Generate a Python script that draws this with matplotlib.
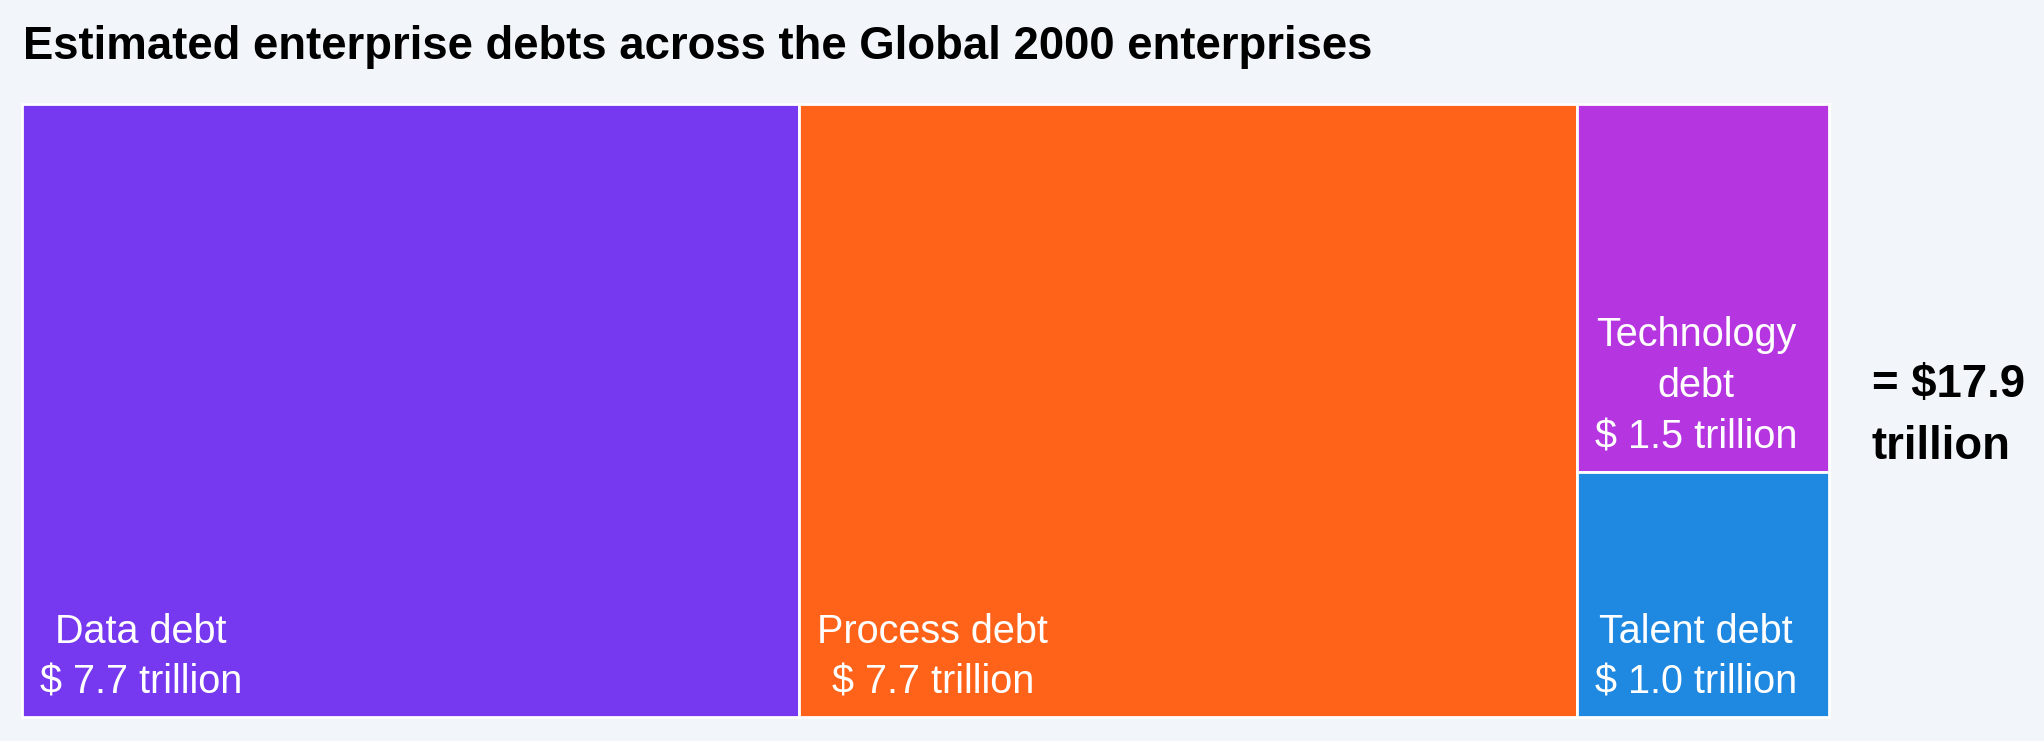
import matplotlib.pyplot as plt
from matplotlib.patches import Rectangle

plt.rcParams['font.family'] = ['Liberation Sans', 'DejaVu Sans']

# data (trillion USD)
labels = ['Data debt', 'Process debt', 'Technology\ndebt', 'Talent debt']
values = [7.7, 7.7, 1.5, 1.0]
colors = ['#7639f0', '#ff631a', '#b535e0', '#1f89e2']
total_text = '= $17.9\ntrillion'
title = 'Estimated enterprise debts across the Global 2000 enterprises'

W, H = 2044, 741
fig = plt.figure(figsize=(W / 100, H / 100), dpi=100)
fig.patch.set_facecolor('#f2f5f9')

# treemap area
ax = fig.add_axes([22 / W, 24 / H, 1807 / W, 613 / H])
ax.set_facecolor('#f2f5f9')
total = sum(values)
ax.set_xlim(0, total)
ax.set_ylim(0, 1)
ax.axis('off')

# first two are full-height columns, the rest share the last column
rects = []
x = 0
for v in values[:2]:
    rects.append((x, 0, v, 1))
    x += v
rest = sum(values[2:])
y = 1
for v in values[2:]:
    h = v / rest
    y -= h
    rects.append((x, y, rest, h))

for (rx, ry, rw, rh), lab, val, c in zip(rects, labels, values, colors):
    ax.add_patch(Rectangle((rx, ry), rw, rh, facecolor=c, edgecolor='white',
                           linewidth=2, clip_on=False))
    ax.annotate(f'{lab}\n$ {val:.1f} trillion', xy=(rx, ry),
                xytext=(13, 11), textcoords='offset points',
                ha='left', va='bottom', multialignment='center',
                color='white', fontsize=28.5, linespacing=1.44)

fig.text(23 / W, 1 - 47 / H, title, fontsize=32.8, fontweight='bold',
         ha='left', va='center')
fig.text(1872 / W, 1 - 416 / H, total_text, fontsize=32.8, fontweight='bold',
         ha='left', va='center', linespacing=1.55)

fig.savefig('out.png', dpi=100, facecolor=fig.get_facecolor())
